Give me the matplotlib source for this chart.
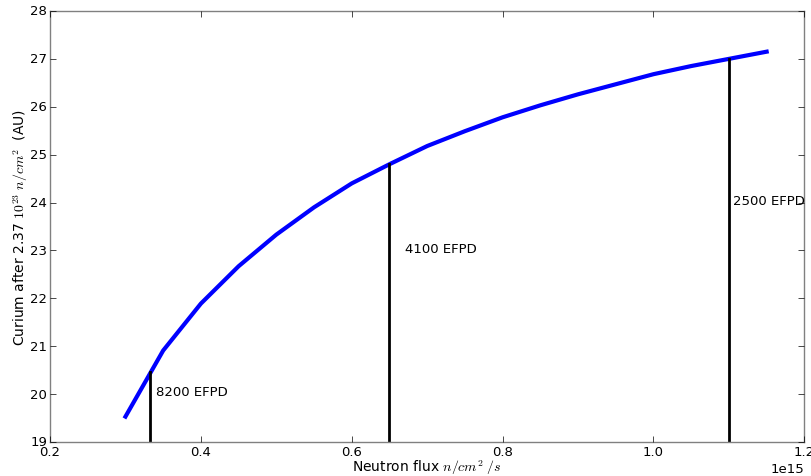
import matplotlib
matplotlib.use('Agg')
import matplotlib.pyplot as plt

plt.style.use('classic')
plt.rcParams['mathtext.fontset'] = 'cm'
plt.rcParams['font.family'] = 'DejaVu Sans'

# flux (units of 1e15 n/cm^2/s) and curium after 2.37e23 n/cm^2
flux = [0.30, 0.35, 0.40, 0.45, 0.50, 0.55, 0.60, 0.65, 0.70, 0.75,
        0.80, 0.85, 0.90, 0.95, 1.00, 1.05, 1.10, 1.15]
curium = [19.53, 20.91, 21.89, 22.67, 23.33, 23.90, 24.40, 24.80, 25.18, 25.49,
          25.78, 26.03, 26.26, 26.47, 26.68, 26.85, 27.00, 27.15]

# marked operating points
mark_flux = [0.333, 0.65, 1.10]
mark_cm = [20.47, 24.80, 27.00]
mark_text = ['8200 EFPD', '4100 EFPD', '2500 EFPD']
text_x = [0.34, 0.67, 1.105]
text_y = [20.05, 23.05, 24.05]

fig = plt.figure(figsize=(8.12, 4.77), dpi=100, facecolor='white')
ax = fig.add_axes([0.0616, 0.0713, 0.929, 0.9036])

ax.plot([x * 1e15 for x in flux], curium, color='blue', lw=3)
for x, y in zip(mark_flux, mark_cm):
    ax.plot([x * 1e15, x * 1e15], [19, y], color='black', lw=2)
for t, x, y in zip(mark_text, text_x, text_y):
    ax.text(x * 1e15, y, t, fontsize=9.5, va='center', ha='left', clip_on=False)

ax.set_xlim(0.2e15, 1.2e15)
ax.set_ylim(19, 28)
ax.set_xlabel(r'Neutron flux $n/cm^2\ /s$', fontsize=10, labelpad=0)
ax.set_ylabel(r'Curium after 2.37 $10^{23}\ n/cm^2$  (AU)', fontsize=10, labelpad=0.5)
ax.tick_params(labelsize=9.5, pad=2)
ax.xaxis.get_offset_text().set_fontsize(9.5)
for s in ax.spines.values():
    s.set_color('gray')

fig.savefig('out.png', dpi=100, facecolor='white')
